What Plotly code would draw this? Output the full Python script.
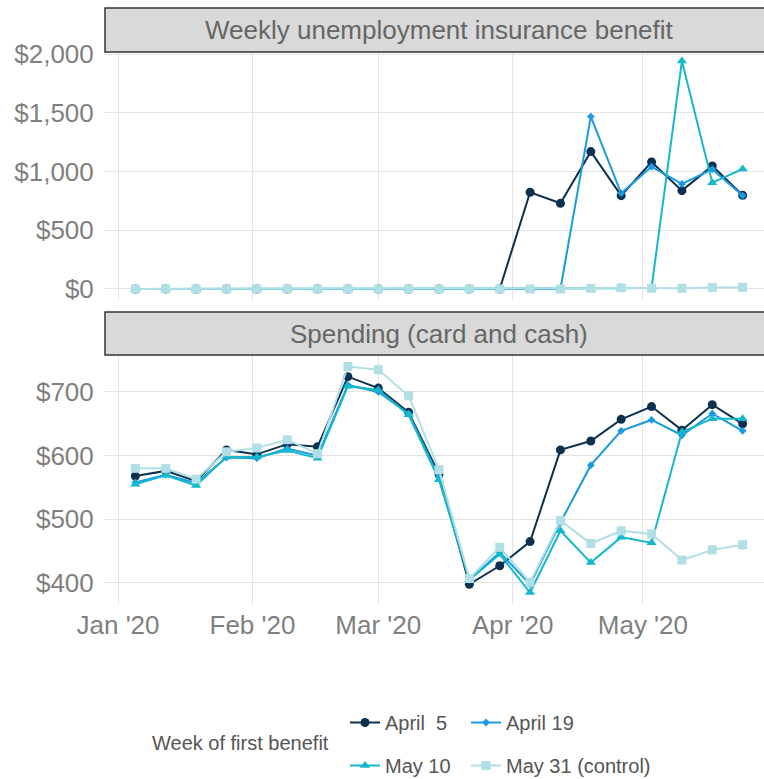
import plotly.graph_objects as go
from plotly.subplots import make_subplots

# ---------------- data ----------------
weeks = ["2020-01-05", "2020-01-12", "2020-01-19", "2020-01-26", "2020-02-02",
         "2020-02-09", "2020-02-16", "2020-02-23", "2020-03-01", "2020-03-08",
         "2020-03-15", "2020-03-22", "2020-03-29", "2020-04-05", "2020-04-12",
         "2020-04-19", "2020-04-26", "2020-05-03", "2020-05-10", "2020-05-17",
         "2020-05-24"]

series_names = ["April  5", "April 19", "May 10", "May 31 (control)"]

ui_apr5 = [0, 0, 0, 0, 0, 0, 0, 0, 0, 0, 0, 0, 0, 823, 729, 1169, 794, 1081, 837, 1047, 797]
ui_apr19 = [0, 0, 0, 0, 0, 0, 0, 0, 0, 0, 0, 0, 0, 0, 0, 1467, 814, 1041, 894, 1019, 795]
ui_may10 = [0, 0, 0, 0, 0, 0, 0, 0, 0, 0, 0, 0, 0, 0, 0, 0, 5, 10, 1940, 905, 1021]
ui_may31 = [0, 0, 0, 0, 0, 0, 0, 0, 0, 0, 0, 0, 0, 0, 0, 5, 10, 5, 5, 12, 14]

sp_apr5 = [568, 576, 560, 609, 602, 618, 614, 724, 706, 668, 571, 398, 427, 465, 609, 623, 657, 677, 640, 680, 650]
sp_apr19 = [558, 570, 557, 597, 596, 611, 600, 711, 700, 666, 566, 405, 448, 398, 495, 585, 639, 656, 632, 666, 639]
sp_may10 = [555, 569, 553, 598, 598, 608, 596, 709, 703, 664, 562, 405, 445, 385, 482, 432, 472, 463, 637, 658, 658]
sp_may31 = [580, 580, 563, 606, 612, 625, 603, 740, 735, 694, 578, 407, 456, 401, 498, 462, 482, 477, 436, 452, 460]

panel_titles = ["Weekly unemployment insurance benefit", "Spending (card and cash)"]
legend_title = "Week of first benefit"

x_tickvals = ["2020-01-01", "2020-02-01", "2020-03-01", "2020-04-01", "2020-05-01"]
x_ticktext = ["Jan '20", "Feb '20", "Mar '20", "Apr '20", "May '20"]
ui_ticks = [0, 500, 1000, 1500, 2000]
sp_ticks = [400, 500, 600, 700]

# ---------------- styles ----------------
colors = ["#0b3050", "#1a9ae0", "#14b8cc", "#b0dfe5"]
symbols = ["circle", "diamond", "triangle-up", "square"]
msizes = [9, 6, 9, 9]
legend_of = ["legend", "legend2", "legend", "legend2"]

# the panels run slightly past the right edge of the 764px window (cropped, as in the reference)
W, H = 774, 779
L, R = 105, 1


def py(px):
    return 1 - px / H


def px_x(px):
    return (px - L) / (W - L - R)


fig = make_subplots(rows=2, cols=1, shared_xaxes=False, vertical_spacing=0.05)

ui_series = [ui_apr5, ui_apr19, ui_may10, ui_may31]
sp_series = [sp_apr5, sp_apr19, sp_may10, sp_may31]

for i, name in enumerate(series_names):
    fig.add_trace(go.Scatter(x=weeks, y=ui_series[i], mode="lines+markers", name=name,
                             line=dict(color=colors[i], width=2),
                             marker=dict(color=colors[i], symbol=symbols[i], size=msizes[i]),
                             showlegend=False, legendgroup=name), row=1, col=1)
    fig.add_trace(go.Scatter(x=weeks, y=sp_series[i], mode="lines+markers", name=name,
                             line=dict(color=colors[i], width=2),
                             marker=dict(color=colors[i], symbol=symbols[i], size=msizes[i]),
                             showlegend=True, legendgroup=name, legend=legend_of[i]),
                  row=2, col=1)

font_family = "Liberation Sans, Arial, sans-serif"
tick_font = dict(family=font_family, size=26, color="#7f7f7f")
grid = "#e3e3e3"

xcommon = dict(type="date", range=["2019-12-29", "2020-05-31"], tickvals=x_tickvals,
               ticktext=x_ticktext, showgrid=True, gridcolor=grid, gridwidth=1,
               zeroline=False, showline=False, tickfont=tick_font, ticks="",
               ticklabelstandoff=3)
fig.update_xaxes(**xcommon)
fig.update_xaxes(showticklabels=False, row=1, col=1)

fig.update_layout(
    xaxis=dict(domain=[0, 1], anchor="y"),
    xaxis2=dict(domain=[0, 1], anchor="y2"),
    yaxis=dict(domain=[py(300), py(52)], range=[-94, 2017], tickvals=ui_ticks,
               tickformat="$,.0f", showgrid=True, gridcolor=grid, zeroline=False,
               tickfont=tick_font, ticks="outside", ticklen=5, tickcolor="rgba(0,0,0,0)"),
    yaxis2=dict(domain=[py(604), py(355)], range=[367, 758], tickvals=sp_ticks,
                tickformat="$,.0f", showgrid=True, gridcolor=grid, zeroline=False,
                tickfont=tick_font, ticks="outside", ticklen=5, tickcolor="rgba(0,0,0,0)"),
)

# strips
strips = [(8, 52), (312, 355)]
for (t, b), title in zip(strips, panel_titles):
    fig.add_shape(type="rect", xref="paper", yref="paper", x0=0, x1=1, y0=py(b), y1=py(t),
                  fillcolor="#d9d9d9", line=dict(color="#333333", width=1.5), layer="above")
    fig.add_annotation(text=title, xref="paper", yref="paper", x=0.5, y=py((t + b) / 2),
                       xanchor="center", yanchor="middle", showarrow=False,
                       font=dict(family=font_family, size=26, color="#666666"))

fig.add_annotation(text=legend_title, xref="paper", yref="paper", x=px_x(240), y=py(743),
                   xanchor="center", yanchor="middle", showarrow=False,
                   font=dict(family=font_family, size=20, color="#555555"))

leg_common = dict(orientation="v", xanchor="left", yanchor="top", y=py(703),
                  font=dict(family=font_family, size=20, color="#555555"),
                  bgcolor="rgba(0,0,0,0)", traceorder="grouped", tracegroupgap=14)
fig.update_layout(
    legend=dict(x=px_x(345), **leg_common),
    legend2=dict(x=px_x(466), **leg_common),
)

fig.update_layout(width=W, height=H, margin=dict(l=L, r=R, t=0, b=0, autoexpand=False),
                  plot_bgcolor="white", paper_bgcolor="white",
                  font=dict(family=font_family))

fig.write_html("out.html", config={"displayModeBar": False},
               post_script="document.body.style.margin='0';document.body.style.overflow='hidden';")
